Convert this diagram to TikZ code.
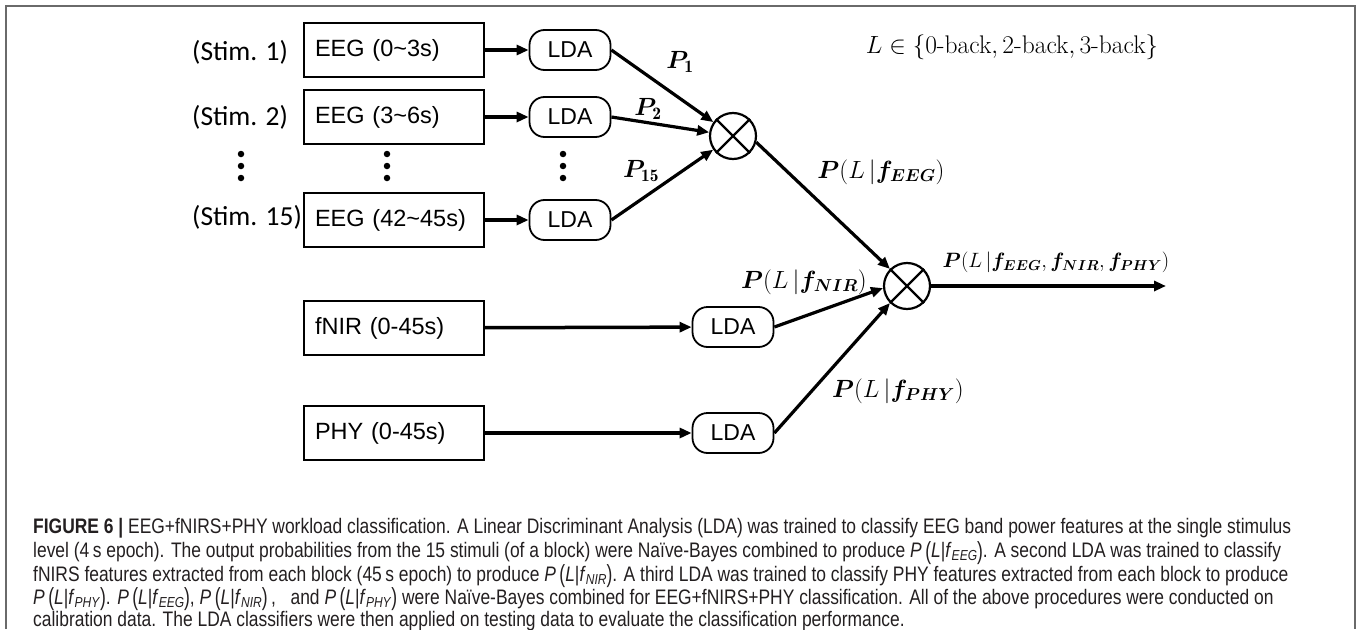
\documentclass[tikz,border=0pt]{standalone}
\usepackage{fontspec}
\usepackage{amsmath}
\usepackage{bm}
\usepackage{graphicx}
\usetikzlibrary{arrows.meta}
\setsansfont{Liberation Sans}
\newfontfamily\stimfont{Carlito}
\newfontfamily\capfont[FakeStretch=0.83]{Liberation Sans}
\definecolor{framec}{HTML}{6A6A6A}
\definecolor{captxt}{HTML}{231F20}
\newcommand{\bigpar}[1]{\raisebox{-0.08em}{\scalebox{1}[1.18]{#1}}}
\newcommand{\capsub}[1]{\raisebox{-0.16em}{\fontsize{14.5}{14.5}\selectfont\textit{#1}}}
\newcommand{\capP}[1]{\textit{P}\,\bigpar{(}\textit{L}|\textit{f}\capsub{#1}\bigpar{)}}
\tikzset{
  inbox/.style={draw, line width=1.8pt, minimum height=54pt, text width=158pt, align=left, inner xsep=11pt, inner ysep=0pt, font=\sffamily\fontsize{23.5}{28}\selectfont},
  lda/.style={draw, rounded corners=15pt, line width=1.8pt, minimum width=81pt, minimum height=40pt, inner sep=0pt, font=\sffamily\fontsize{23}{28}\selectfont},
  comb/.style={circle, draw, line width=2.2pt, minimum size=46pt, inner sep=0pt},
  arr/.style={line width=3.2pt, -{Triangle[length=12pt,width=10pt]}},
  stim/.style={anchor=west, inner sep=0pt, font=\stimfont\fontsize{27.5}{30}\selectfont},
  mlab/.style={inner sep=0pt, font=\fontsize{24}{28}\selectfont},
  capline/.style={anchor=base west, inner sep=0pt, text=captxt, font=\capfont\fontsize{21}{24}\selectfont},
  dot/.style={circle, fill=black, inner sep=0pt, minimum size=6.5pt}
}
\begin{document}
\begin{tikzpicture}[x=1pt,y=-1pt]
\useasboundingbox (0,0) rectangle (1357,629);
\draw[framec, line width=1.5pt] (6,629) -- (6,6) -- (1355,6) -- (1355,629);

% input boxes
\node[inbox] (e1) at (394,50) {EEG (0\textasciitilde3s)};
\node[inbox] (e2) at (394,117) {EEG (3\textasciitilde6s)};
\node[inbox] (e15) at (394,220) {EEG (42\textasciitilde45s)};
\node[inbox] (fn) at (394,328) {fNIR (0-45s)};
\node[inbox] (ph) at (394,433) {PHY (0-45s)};

% stim labels
\node[stim] (s1) at (192,52) {(Stim. 1)};
\node[stim] (s2) at (192,117) {(Stim. 2)};
\node[stim] (s15) at (192,217) {(Stim. 15)};

% dots
\foreach \x/\n in {241/a,387/b,563/c}{
  \node[dot] (d\n1) at (\x,154) {};
  \node[dot] (d\n2) at (\x,166) {};
  \node[dot] (d\n3) at (\x,178) {};
}

% LDA nodes
\node[lda] (l1) at (570,50) {LDA};
\node[lda] (l2) at (570,117) {LDA};
\node[lda] (l15) at (570,220) {LDA};
\node[lda] (lf) at (733,327) {LDA};
\node[lda] (lp) at (733,433) {LDA};

% combination nodes
\node[comb] (c1) at (733,136) {};
\draw[line width=2.2pt] (c1.north west) -- (c1.south east) (c1.north east) -- (c1.south west);
\node[comb] (c2) at (907,286) {};
\draw[line width=2.2pt] (c2.north west) -- (c2.south east) (c2.north east) -- (c2.south west);
\coordinate (out) at (1166,286);

% connectors
\draw[arr, line width=3.5pt] (e1) -- (l1);
\draw[arr, line width=3.5pt] (e2) -- (l2);
\draw[arr, line width=3.5pt] (e15) -- (l15);
\draw[arr, line width=3.5pt] (fn) -- (lf);
\draw[arr, line width=3.5pt] (ph) -- (lp);
\draw[arr] (l1.east) -- (c1);
\draw[arr] (l2.east) -- (c1);
\draw[arr] (l15.east) -- (c1);
\draw[arr] (c1.-15) -- (c2.north west);
\draw[arr] (lf.east) -- (c2.185);
\draw[arr] (lp.east) -- (c2.south west);
\draw[arr] (c2.east) -- (out);

% labels
\node[mlab, font=\fontsize{25}{28}\selectfont] (p1) at (680,62) {$\bm{P}_{\mathbf{1}}$};
\node[mlab, font=\fontsize{25}{28}\selectfont] (p2) at (648,109) {$\bm{P}_{\mathbf{2}}$};
\node[mlab, font=\fontsize{25}{28}\selectfont] (p15) at (641,171) {$\bm{P}_{\mathbf{15}}$};
\node[mlab] (pe) at (881,172) {$\bm{P}(L\,|\bm{f}_{\bm{EEG}})$};
\node[mlab] (pn) at (804,282) {$\bm{P}(L\,|\bm{f}_{\bm{NIR}})$};
\node[mlab] (pp) at (898,391) {$\bm{P}(L\,|\bm{f}_{\bm{PHY}})$};
\node[mlab, font=\fontsize{22.5}{26}\selectfont] (pall) at (1056,262) {$\bm{P}(L\,|\bm{f}_{\bm{EEG}},\bm{f}_{\bm{NIR}},\bm{f}_{\bm{PHY}})$};
\node[mlab, font=\fontsize{25.5}{30}\selectfont] (lset) at (1012,47) {$L\in\{\text{0-back},\text{2-back},\text{3-back}\}$};

% caption
\node[capline] (cap1) at (33,533) {\textbf{FIGURE 6 |} EEG+fNIRS+PHY workload classification. A Linear Discriminant Analysis (LDA) was trained to classify EEG band power features at the single stimulus};
\node[capline] (cap2) at (33,557.5) {level (4\,s epoch). The output probabilities from the 15 stimuli (of a block) were Naïve-Bayes combined to produce \capP{EEG}. A second LDA was trained to classify};
\node[capline] (cap3) at (33,581) {fNIRS features extracted from each block (45\,s epoch) to produce \capP{NIR}. A third LDA was trained to classify PHY features extracted from each block to produce};
\node[capline] (cap4) at (33,604) {\capP{PHY}. \capP{EEG}, \capP{NIR}\,,~~ and \capP{PHY} were Naïve-Bayes combined for EEG+fNIRS+PHY classification. All of the above procedures were conducted on};
\node[capline] (cap5) at (33,626.5) {calibration data. The LDA classifiers were then applied on testing data to evaluate the classification performance.};
\end{tikzpicture}
\end{document}
